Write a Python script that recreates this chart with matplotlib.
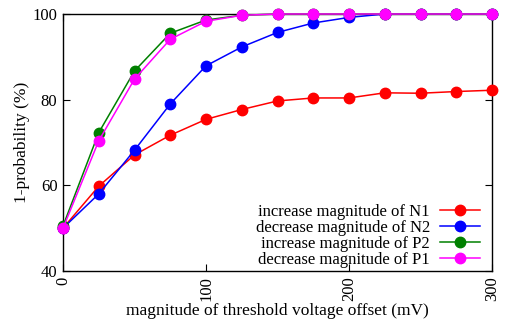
import numpy as np
import matplotlib
matplotlib.use("Agg")
import matplotlib.pyplot as plt

plt.rcParams["font.family"] = ["Liberation Serif", "DejaVu Serif"]

# ── Data ──────────────────────────────────────────────────────────────────────
offset_mv = [0, 25, 50, 75, 100, 125, 150, 175, 200, 225, 250, 275, 300]

inc_n1 = [50.0, 59.8, 67.1, 71.7, 75.4, 77.7, 79.7, 80.4, 80.4, 81.6, 81.5, 81.9, 82.2]
dec_n2 = [50.0, 58.0, 68.2, 79.0, 87.9, 92.3, 95.7, 97.9, 99.2, 100.0, 100.0, 100.0, 100.0]
inc_p2 = [50.5, 72.3, 86.7, 95.5, 98.6, 99.7, 100.0, 100.0, 100.0, 100.0, 100.0, 100.0, 100.0]
dec_p1 = [50.0, 70.4, 84.8, 94.1, 98.3, 99.7, 100.0, 100.0, 100.0, 100.0, 100.0, 100.0, 100.0]

series = [
    ("increase magnitude of N1", inc_n1, "#ff0000"),
    ("decrease magnitude of N2", dec_n2, "#0000ff"),
    ("increase magnitude of P2", inc_p2, "#008000"),
    ("decrease magnitude of P1", dec_p1, "#ff00ff"),
]

x_ticks = [0, 100, 200, 300]
y_ticks = [40, 60, 80, 100]

# ── Figure ────────────────────────────────────────────────────────────────────
fig = plt.figure(figsize=(5.05, 3.26), dpi=100)
ax = fig.add_axes([63 / 505, 1 - 271 / 326, (492 - 63) / 505, (271 - 14) / 326])

for label, vals, col in series:
    ax.plot(offset_mv, vals, "-o", color=col, lw=1.1, ms=7.5, label=label,
            clip_on=False, zorder=3)

ax.set_xlim(0, 300)
ax.set_ylim(40, 100)
ax.set_xticks(x_ticks)
ax.set_yticks(y_ticks)
ax.set_xticklabels([str(t) for t in x_ticks], rotation=90, fontsize=12)
ax.set_yticklabels([str(t) for t in y_ticks], fontsize=12)
ax.tick_params(direction="in", length=5, width=0.8, top=True, right=True, pad=4)
for s in ax.spines.values():
    s.set_linewidth(1.0)

ax.set_xlabel("magnitude of threshold voltage offset (mV)", fontsize=12.5, labelpad=1)
ax.set_ylabel("1-probability (%)", fontsize=12.5, labelpad=2)

ax.legend(loc="lower right", bbox_to_anchor=(1 - 7 / 429, -2 / 257),
          frameon=False, markerfirst=False, fontsize=12,
          handlelength=2.4, handletextpad=0.6, labelspacing=0.0,
          borderaxespad=0.0, borderpad=0.3)

fig.savefig("out.png", dpi=100)
